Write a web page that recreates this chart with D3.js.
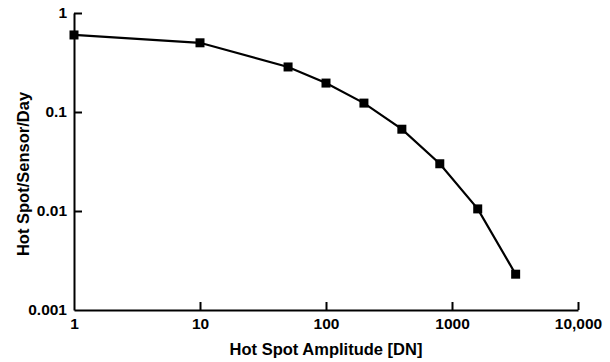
<!DOCTYPE html>
<html>
<head>
<meta charset="utf-8">
<script src="https://cdn.jsdelivr.net/npm/d3@7"></script>
<style>
body { margin: 0; background: #fff; }
svg { display: block; font-family: "Liberation Sans", Arial, sans-serif; }
.tick text { font-size: 15.5px; font-weight: bold; fill: #000; }
.label { font-size: 16.5px; font-weight: bold; fill: #000; }
</style>
</head>
<body>
<script>
//Global variables
const width = 610;
const height = 362;
const plotLeft = 74, plotRight = 578, plotTop = 13, plotBottom = 310;

//Data
const amplitude = [1, 10, 50, 100, 200, 400, 800, 1600, 3200];
const rate = [0.60, 0.50, 0.285, 0.196, 0.123, 0.067, 0.030, 0.0105, 0.0023];
const xTicks = [1, 10, 100, 1000, 10000];
const xTickLabels = ["1", "10", "100", "1000", "10,000"];
const yTicks = [0.001, 0.01, 0.1, 1];
const yTickLabels = ["0.001", "0.01", "0.1", "1"];

const data = amplitude.map((a, i) => ({x: a, y: rate[i]}));

//Scales
const xScale = d3.scaleLog().domain([1, 10000]).range([plotLeft, plotRight]);
const yScale = d3.scaleLog().domain([0.001, 1]).range([plotBottom, plotTop]);

//SVG element
const svg = d3.select("body").append("svg")
    .attr("width", width)
    .attr("height", height);

//Axes
const bottomAxis = d3.axisBottom(xScale)
    .tickValues(xTicks)
    .tickFormat((d, i) => xTickLabels[i])
    .tickSizeInner(-8)
    .tickSizeOuter(0);

const leftAxis = d3.axisLeft(yScale)
    .tickValues(yTicks)
    .tickFormat((d, i) => yTickLabels[i])
    .tickSizeInner(-8)
    .tickSizeOuter(0);

const gx = svg.append("g")
    .attr("transform", "translate(0," + plotBottom + ")")
    .call(bottomAxis);

const gy = svg.append("g")
    .attr("transform", "translate(" + plotLeft + ",0)")
    .call(leftAxis);

[gx, gy].forEach(g => {
  g.select(".domain").attr("stroke", "#000").attr("stroke-width", 2);
  g.selectAll(".tick line").attr("stroke", "#000").attr("stroke-width", 2);
});
gx.selectAll(".tick text").attr("y", 8).attr("dy", "0.71em");
gy.selectAll(".tick text").attr("x", -7);
// corner ticks have no tick mark
gy.selectAll(".tick").filter(d => d === 0.001).select("line").remove();
gx.selectAll(".tick").filter(d => d === 1).select("line").remove();

//Line
const line = d3.line()
    .x(d => xScale(d.x))
    .y(d => yScale(d.y));

svg.append("path")
    .datum(data)
    .attr("d", line)
    .attr("fill", "none")
    .attr("stroke", "#000")
    .attr("stroke-width", 2.2);

//Markers
const s = 9;
svg.selectAll("rect.pt")
    .data(data)
    .enter().append("rect")
    .attr("class", "pt")
    .attr("x", d => xScale(d.x) - s / 2)
    .attr("y", d => yScale(d.y) - s / 2)
    .attr("width", s)
    .attr("height", s)
    .attr("fill", "#000");

//Axis labels
svg.append("text")
    .attr("class", "label")
    .attr("x", 326)
    .attr("y", 355)
    .attr("text-anchor", "middle")
    .text("Hot Spot Amplitude [DN]");

svg.append("text")
    .attr("class", "label")
    .attr("transform", "translate(29,174) rotate(-90)")
    .attr("text-anchor", "middle")
    .text("Hot Spot/Sensor/Day");
</script>
</body>
</html>
